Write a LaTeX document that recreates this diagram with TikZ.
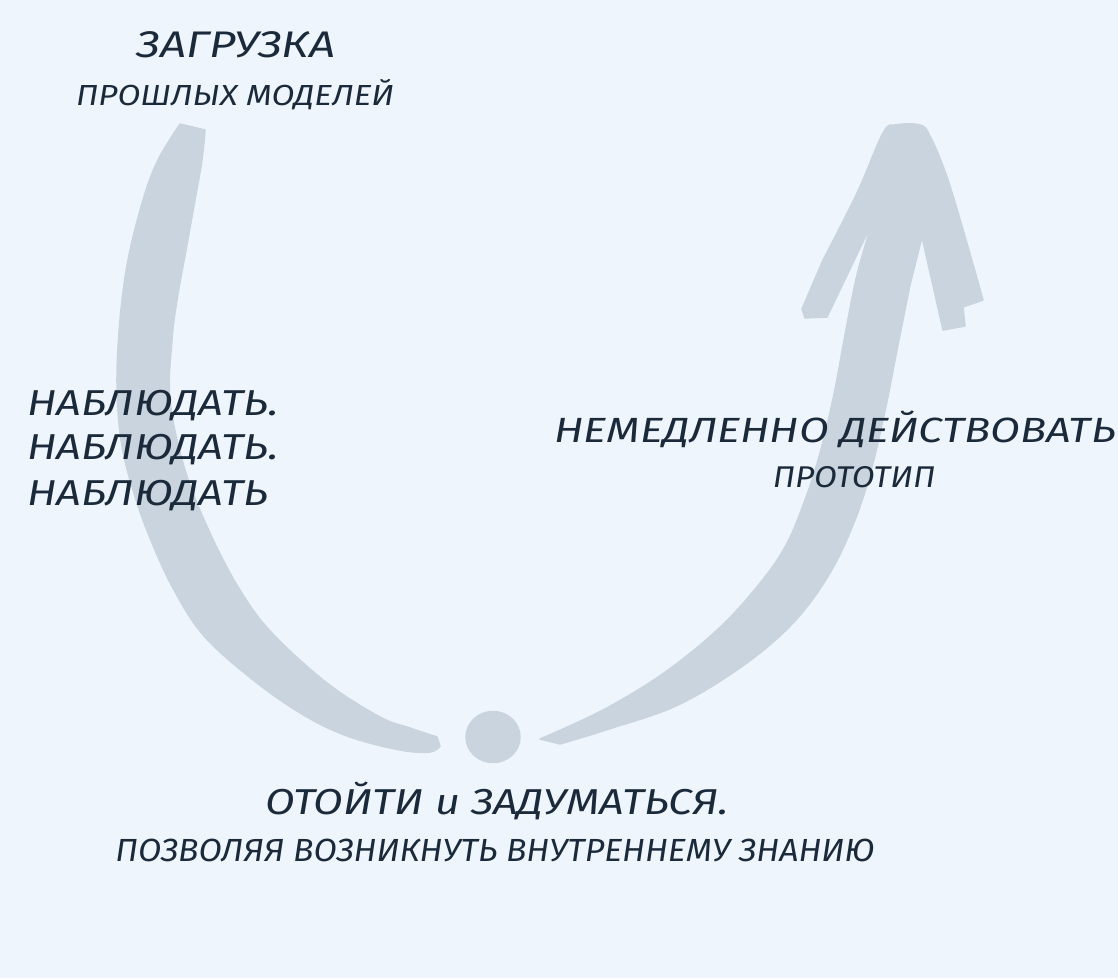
\documentclass[tikz,border=0pt]{standalone}
\usepackage{fontspec}
\setmainfont{Fira Sans}
\usetikzlibrary{positioning}

\definecolor{paper}{HTML}{EFF5FC}
\definecolor{chalk}{HTML}{C9D4DE}
\definecolor{ink}{HTML}{1B2A3A}

\tikzset{
    brush/.style={fill=chalk, draw=chalk, line width=1.5pt, line join=round},
    hand/.style={text=ink, inner sep=0pt, anchor=base},
}

\begin{document}
\begin{tikzpicture}[x=1pt, y=-1pt]
        \useasboundingbox (0,0) rectangle (1118,978);
        \fill[paper] (0,0) rectangle (1118,978);

        % left stroke, going down
        \fill[brush] plot[smooth, tension=0.6] coordinates {(180,124) (158,160) (143,200) (128,260) (120,320) (117,383) (121,440) (133,490) (150,538) (174,590) (205,637) (257,683) (307,717) (350,737) (400,750) (430,752) (440,746)}
              -- plot[smooth, tension=0.6] coordinates {(437,737) (410,728) (380,717) (327,683) (272,633) (240,590) (210,533) (185,470) (170,400) (172,340) (177,300) (186,250) (195,200) (202,160) (205,130)}
              -- cycle;

        % the dot
        \fill[brush] (493,737) ellipse [x radius=27pt, y radius=25.5pt];

        % right stroke with head
        \fill[brush] plot[smooth, tension=0.6] coordinates {(540,739) (601,711) (661,675) (716,631) (756,588) (785,547) (805,500) (820,453) (834,394) (845,335) (857,275) (872,223)}
              -- (827,317) -- (805,318) -- (802,309)
              -- plot[smooth, tension=0.6] coordinates {(823,260) (857,193) (883,133) (895,125) (920,125) (930,136) (947,177) (966,240) (983,300)}
              -- (963,307) -- (965,326) -- (943,330) -- (922,237)
              -- plot[smooth, tension=0.6] coordinates {(910,285) (898,345) (886,406) (872,467) (855,520) (830,573) (794,622) (744,665) (678,705) (609,729) (560,744)}
              -- cycle;

        \node[hand, font=\fontsize{37}{44}\selectfont\itshape] (load) at (236,57) {\scalebox{1.24}[1]{ЗАГРУЗКА}};
        \node[hand, font=\fontsize{29}{34}\selectfont\itshape] (past) at (235,105) {\scalebox{1.15}[1]{ПРОШЛЫХ МОДЕЛЕЙ}};

        \node[hand, anchor=base west, font=\fontsize{36}{43}\selectfont\itshape] (watch1) at (27,415) {\scalebox{1.21}[1]{НАБЛЮДАТЬ.}};
        \node[hand, anchor=base west, font=\fontsize{36}{43}\selectfont\itshape] (watch2) at (27,459) {\scalebox{1.21}[1]{НАБЛЮДАТЬ.}};
        \node[hand, anchor=base west, font=\fontsize{36}{43}\selectfont\itshape] (watch3) at (27,505) {\scalebox{1.21}[1]{НАБЛЮДАТЬ}};

        \node[hand, font=\fontsize{35}{42}\selectfont\itshape] (act) at (835,442) {\scalebox{1.24}[1]{НЕМЕДЛЕННО ДЕЙСТВОВАТЬ}};
        \node[hand, font=\fontsize{30}{36}\selectfont\itshape] (proto) at (854,487) {\scalebox{1.11}[1]{ПРОТОТИП}};

        \node[hand, font=\fontsize{36}{43}\selectfont\itshape] (pause) at (497,814) {\scalebox{1.2}[1]{ОТОЙТИ и ЗАДУМАТЬСЯ.}};
        \node[hand, font=\fontsize{32}{38}\selectfont\itshape] (know) at (495,861) {\scalebox{1.06}[1]{ПОЗВОЛЯЯ ВОЗНИКНУТЬ ВНУТРЕННЕМУ ЗНАНИЮ}};
\end{tikzpicture}
\end{document}
